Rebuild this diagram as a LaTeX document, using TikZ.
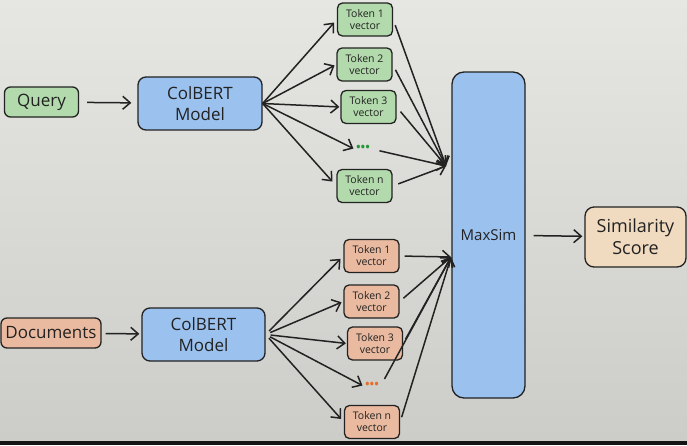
\documentclass[tikz,border=0pt]{standalone}
\usepackage{fontspec}
\setmainfont{Open Sans}
\usetikzlibrary{arrows.meta}
\definecolor{bgtop}{RGB}{230,230,226}
\definecolor{bgbot}{RGB}{204,205,201}
\definecolor{linec}{RGB}{34,34,34}
\definecolor{greenf}{RGB}{178,218,172}
\definecolor{orangef}{RGB}{234,186,160}
\definecolor{bluef}{RGB}{155,193,238}
\definecolor{tanf}{RGB}{240,218,192}
\definecolor{greend}{RGB}{40,150,60}
\definecolor{oranged}{RGB}{230,110,40}
\begin{document}
\begin{tikzpicture}[x=1pt,y=-1pt,
  box/.style={draw=linec, line width=1.3pt, rounded corners=6pt, inner sep=0pt, align=center, text=linec},
  tok/.style={box, minimum width=55pt, minimum height=33pt, rounded corners=5pt, font=\fontsize{10.5}{12}\selectfont},
  gtok/.style={tok, fill=greenf},
  otok/.style={tok, fill=orangef},
  dotsn/.style={inner sep=1pt, font=\fontsize{15}{16}\selectfont},
  arr/.style={draw=linec, line width=1.5pt, -{Straight Barb[length=7.5pt,width=13pt]}}]
\useasboundingbox (0,0) rectangle (687,445);
\shade[top color=bgtop, bottom color=bgbot] (0,0) rectangle (687,441);
\fill[black!92] (0,441) rectangle (687,445);

% query side
\node[box, fill=greenf, minimum width=74pt, minimum height=30pt, font=\fontsize{17}{20}\selectfont] (q) at (41.5,102) {Query};
\node[box, fill=bluef, minimum width=124pt, minimum height=53pt, rounded corners=8pt, font=\fontsize{17}{21}\selectfont] (cq) at (200,103.5) {ColBERT\\Model};
\node[gtok] (t1) at (365,19.5) {Token 1\\vector};
\node[gtok] (t2) at (364.5,64.5) {Token 2\\vector};
\node[gtok] (t3) at (368.5,107) {Token 3\\vector};
\node[dotsn, text=greend] (tdots) at (363,149) {\textbullet\kern-1pt\textbullet\kern-1pt\textbullet};
\node[gtok] (tn) at (364.5,186) {Token n\\vector};

% document side
\node[box, fill=orangef, minimum width=100pt, minimum height=30pt, font=\fontsize{17}{20}\selectfont] (d) at (51,333) {Documents};
\node[box, fill=bluef, minimum width=123pt, minimum height=53pt, rounded corners=8pt, font=\fontsize{17}{21}\selectfont] (cd) at (203.5,334.5) {ColBERT\\Model};
\node[otok] (b1) at (371.5,256) {Token 1\\vector};
\node[otok] (b2) at (371.5,301.5) {Token 2\\vector};
\node[otok] (b3) at (375,343.5) {Token 3\\vector};
\node[dotsn, text=oranged] (bdots) at (372,386) {\textbullet\kern-1pt\textbullet\kern-1pt\textbullet};
\node[otok] (bn) at (372,422) {Token n\\vector};

% maxsim and score
\node[box, fill=bluef, minimum width=73pt, minimum height=326pt, rounded corners=12pt, font=\fontsize{15}{18}\selectfont] (ms) at (488.5,235) {MaxSim};
\node[box, fill=tanf, minimum width=101pt, minimum height=60pt, rounded corners=9pt, font=\fontsize{18}{22}\selectfont] (sc) at (635.5,237) {Similarity\\Score};

\coordinate (mq) at (446,166);
\coordinate (mb) at (451,257);

% arrows
\draw[arr, shorten <=8pt, shorten >=6pt] (q) -- (cq);
\draw[arr, shorten <=4pt, shorten >=2pt] (d) -- (cd);
\foreach \t/\s in {t1/4pt, t2/2pt, t3/1pt, tdots/1pt, tn/6pt}
  \draw[arr, shorten >=\s] (cq.east) -- (\t.west);
\foreach \t/\s in {b1/4pt, b2/2pt, b3/1pt, bdots/1pt, bn/4pt}
  \draw[arr, shorten <=5pt, shorten >=\s] (cd.east) -- (\t.west);
\foreach \t in {t1, t2, t3, tn}
  \draw[arr, shorten <=6pt] (\t.east) -- (mq);
\draw[arr, shorten <=8pt] (tdots.east) -- (mq);
\foreach \t in {b1, b2, b3, bn}
  \draw[arr, shorten <=5pt] (\t.east) -- (mb);
\draw[arr, shorten <=8pt] (bdots.east) -- (mb);
\draw[arr, shorten <=8pt, shorten >=2pt] (ms) -- (sc);
\end{tikzpicture}
\end{document}
